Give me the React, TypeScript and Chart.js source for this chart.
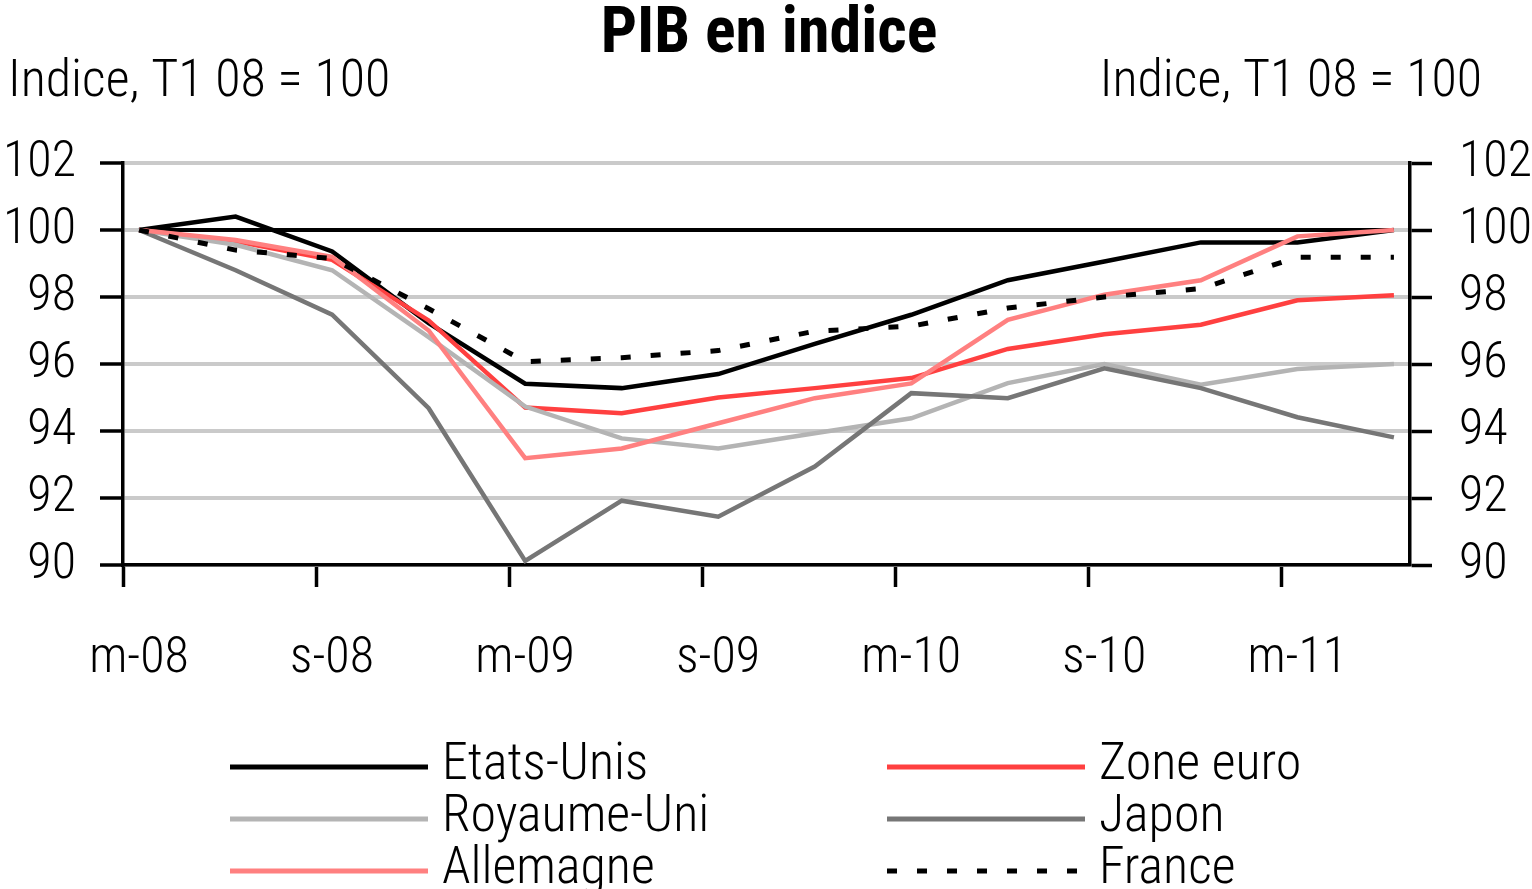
import React, { useEffect, useRef } from 'react';
import { Chart, registerables } from 'chart.js';

Chart.register(...registerables);

// ---- Data ----
const quarters = ['T1 08', 'T2 08', 'T3 08', 'T4 08', 'T1 09', 'T2 09', 'T3 09', 'T4 09', 'T1 10', 'T2 10', 'T3 10', 'T4 10', 'T1 11', 'T2 11'];
const xTickLabels = ['m-08', 's-08', 'm-09', 's-09', 'm-10', 's-10', 'm-11'];
const yMin = 90;
const yMax = 102;
const yStep = 2;

const etatsUnis = [100, 100.4, 99.36, 97.22, 95.41, 95.28, 95.7, 96.6, 97.47, 98.5, 99.06, 99.63, 99.63, 100.0];
const zoneEuro = [100, 99.66, 99.11, 97.3, 94.7, 94.53, 95.0, 95.28, 95.58, 96.45, 96.89, 97.17, 97.9, 98.05];
const royaumeUni = [100, 99.56, 98.8, 96.8, 94.73, 93.78, 93.48, 93.93, 94.38, 95.43, 96.0, 95.38, 95.85, 96.0];
const japon = [100, 98.8, 97.47, 94.68, 90.12, 91.92, 91.44, 92.94, 95.13, 94.98, 95.87, 95.28, 94.41, 93.81];
const allemagne = [100, 99.7, 99.2, 97.0, 93.19, 93.48, 94.23, 94.98, 95.42, 97.32, 98.07, 98.5, 99.81, 100.0];
const france = [100, 99.4, 99.15, 97.65, 96.07, 96.19, 96.4, 96.98, 97.13, 97.67, 98.0, 98.25, 99.19, 99.19];
const base100 = [100, 100, 100, 100, 100, 100, 100, 100, 100, 100, 100, 100, 100, 100];

const FONT = "'Liberation Sans Narrow', 'Arial Narrow', 'Roboto Condensed', 'Liberation Sans', sans-serif";
const WEIGHT = '300';

// x axis: one unit per quarter; ticks (start of month) sit 1/6 quarter before the quarterly points
const X_MIN = -1 / 6;
const X_MAX = quarters.length - 1 + 1 / 6;

const toPoints = (arr: number[]) => arr.map((v, i) => ({ x: i, y: v }));

const headerPlugin = {
  id: 'header',
  afterDraw(chart: any) {
    const ctx = chart.ctx;
    ctx.save();
    ctx.fillStyle = '#000';
    ctx.textBaseline = 'alphabetic';
    ctx.font = `bold 64px ${FONT}`;
    ctx.textAlign = 'center';
    ctx.fillText('PIB en indice', 769, 52);
    ctx.font = `${WEIGHT} 52px ${FONT}`;
    ctx.textAlign = 'left';
    ctx.fillText('Indice, T1 08 = 100', 8, 96);
    ctx.textAlign = 'right';
    ctx.fillText('Indice, T1 08 = 100', 1482, 96);
    ctx.restore();
  },
};

const legendPlugin = {
  id: 'customLegend',
  afterDraw(chart: any) {
    const ctx = chart.ctx;
    const items = chart.data.datasets.filter((d: any) => d.showInLegend);
    const colX = [230, 887];
    const rowY = [779, 831, 883];
    const lineLen = 198;
    ctx.save();
    ctx.font = `${WEIGHT} 52px ${FONT}`;
    ctx.textBaseline = 'alphabetic';
    ctx.textAlign = 'left';
    items.forEach((d: any, i: number) => {
      const col = i % 2;
      const row = Math.floor(i / 2);
      const x = colX[col];
      const y = rowY[row];
      ctx.beginPath();
      ctx.strokeStyle = d.borderColor;
      ctx.lineWidth = 5;
      ctx.lineCap = 'butt';
      ctx.setLineDash(d.borderDash || []);
      ctx.moveTo(x, y - 12);
      ctx.lineTo(x + lineLen, y - 12);
      ctx.stroke();
      ctx.setLineDash([]);
      ctx.fillStyle = '#000';
      ctx.fillText(d.label, x + lineLen + 14, y);
    });
    ctx.restore();
  },
};

export default function App() {
  const canvasRef = useRef<HTMLCanvasElement | null>(null);

  useEffect(() => {
    document.body.style.margin = '0';
    const canvas = canvasRef.current;
    if (!canvas) return;

    const mk = (label: string, data: number[], color: string, order: number, extra: any = {}) => ({
      label,
      data: toPoints(data),
      borderColor: color,
      backgroundColor: color,
      borderWidth: 4.5,
      pointRadius: 0,
      pointHoverRadius: 0,
      fill: false,
      tension: 0,
      order,
      showInLegend: true,
      ...extra,
    });

    const tickFont = { family: FONT, size: 50, weight: WEIGHT };

    const chart = new Chart(canvas, {
      type: 'line',
      data: {
        datasets: [
          mk('Etats-Unis', etatsUnis, '#000000', 6),
          mk('Zone euro', zoneEuro, '#ff4040', 5),
          mk('Royaume-Uni', royaumeUni, '#b4b4b4', 4),
          mk('Japon', japon, '#767676', 3),
          mk('Allemagne', allemagne, '#ff8080', 2),
          mk('France', france, '#000000', 1, { borderDash: [10, 20], borderWidth: 5 }),
          mk('Base 100', base100, '#000000', 7, { showInLegend: false, borderWidth: 4 }),
        ] as any,
      },
      options: {
        animation: false,
        responsive: true,
        maintainAspectRatio: false,
        layout: { padding: { top: 163, bottom: 0, left: 0, right: 0 } },
        plugins: {
          legend: { display: false },
          tooltip: { enabled: false },
          title: { display: false },
        },
        scales: {
          x: {
            type: 'linear',
            min: X_MIN,
            max: X_MAX,
            afterBuildTicks: (scale: any) => {
              scale.ticks = xTickLabels.map((_, k) => ({ value: X_MIN + 2 * k }));
            },
            afterFit: (scale: any) => {
              scale.height = 324;
            },
            ticks: {
              autoSkip: false,
              maxRotation: 0,
              minRotation: 0,
              labelOffset: 16,
              padding: 42,
              color: '#000',
              font: tickFont,
              callback: (_v: any, index: number) => xTickLabels[index],
            },
            grid: {
              drawOnChartArea: false,
              drawTicks: true,
              tickLength: 22,
              tickColor: '#000',
              tickWidth: 3.5,
            },
            border: { display: true, color: '#000', width: 3.5 },
          },
          y: {
            type: 'linear',
            position: 'left',
            min: yMin,
            max: yMax,
            afterFit: (scale: any) => {
              scale.width = 123;
            },
            ticks: {
              stepSize: yStep,
              padding: 24,
              color: '#000',
              font: tickFont,
            },
            grid: {
              color: '#cacaca',
              lineWidth: 4,
              drawTicks: true,
              tickLength: 23,
              tickColor: '#000',
              tickWidth: 3.5,
            },
            border: { display: true, color: '#000', width: 3.5 },
          },
          y2: {
            type: 'linear',
            position: 'right',
            min: yMin,
            max: yMax,
            afterFit: (scale: any) => {
              scale.width = 122;
            },
            ticks: {
              stepSize: yStep,
              padding: 27,
              color: '#000',
              font: tickFont,
            },
            grid: {
              drawOnChartArea: false,
              drawTicks: true,
              tickLength: 22,
              tickColor: '#000',
              tickWidth: 3.5,
            },
            border: { display: true, color: '#000', width: 3.5 },
          },
        },
      } as any,
      plugins: [headerPlugin, legendPlugin],
    });

    return () => {
      chart.destroy();
    };
  }, []);

  return (
    <div style={{ width: 1532, height: 889, position: 'relative', background: '#fff' }}>
      <canvas ref={canvasRef} />
    </div>
  );
}
